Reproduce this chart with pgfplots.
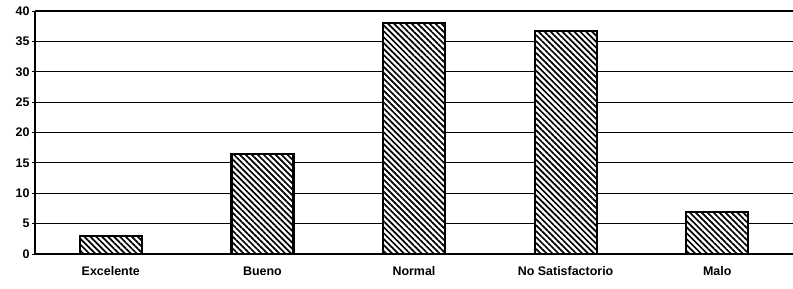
\documentclass[border=0pt]{standalone}
\usepackage{fontspec}
\setmainfont{Liberation Sans}
\usepackage{pgfplots}
\pgfplotsset{compat=1.18}
\usetikzlibrary{patterns.meta}
\begin{document}
\begin{tikzpicture}[x=1bp,y=1bp]
\begin{axis}[
  scale only axis,
  width=758bp, height=243bp,
  xmin=-0.5, xmax=4.5,
  ymin=0, ymax=40,
  ytick={0,5,...,40},
  xtick={0,1,2,3,4},
  xticklabels={Excelente,Bueno,Normal,No Satisfactorio,Malo},
  axis x line*=bottom,
  axis y line*=left,
  axis line style={line width=2pt, -},
  x tick style={draw=none},
  y tick style={line width=1pt, black},
  major tick length=3bp,
  tick align=outside,
  ymajorgrids,
  grid style={black, line width=1.2pt},
  /pgf/number format/assume math mode=true,
  tick label style={font=\fontsize{12.5}{14}\selectfont\bfseries},
  yticklabel style={xshift=1bp},
  xticklabel style={yshift=-6bp},
  ybar, bar width=62bp, bar shift=0pt,
  clip=false,
]
\addplot[fill=white, draw=none]
  coordinates {(0,3.0) (1,16.5) (2,38.0) (3,36.7) (4,6.9)};
\addplot[draw=black, line width=2.2bp, pattern={Lines[angle=-45, distance=4.2bp, line width=1.7bp]}, pattern color=black]
  coordinates {(0,3.0) (1,16.5) (2,38.0) (3,36.7) (4,6.9)};
\draw[line width=2pt] (axis cs:-0.5,40) -- (axis cs:4.5,40);
\end{axis}
\pgfresetboundingbox
\path (-35bp,-35bp) rectangle (758bp,254bp);
\end{tikzpicture}
\end{document}
